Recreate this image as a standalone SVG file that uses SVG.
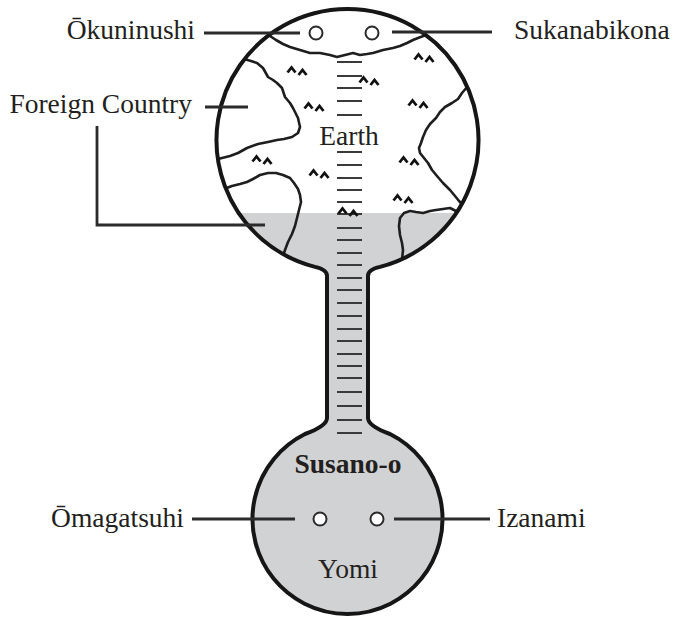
<svg xmlns="http://www.w3.org/2000/svg" width="674" height="619" viewBox="0 0 674 619">
  <style>
    .lbl { font-family: "Liberation Serif", "Times New Roman", serif; font-size: 27.5px; fill: #231f20; }
    .bold { font-weight: bold; }
    .lead { stroke: #2b2b2b; stroke-width: 2.8; fill: none; }
    .coast { stroke: #1e1e1e; stroke-width: 2.6; fill: none; stroke-linejoin: round; stroke-linecap: round; }
    .rung { stroke: #3a3a3a; stroke-width: 2.2; }
    .hill { stroke: #111; stroke-width: 2.8; fill: none; stroke-linejoin: miter; }
    .dot { fill: #fff; stroke: #2b2b2b; stroke-width: 2; }
  </style>
  <defs>
    <!-- outline of the flask: upper world, shaft, lower world -->
    <path id="outline" d="M327,276 Q327,269.5 315,266.9 A131,131 0 1 1 380,266.9 Q368,269.5 368,276 L368,418 Q368,426 390,434 A95,95 0 1 1 305,434 Q327,426 327,418 Z"/>
    <clipPath id="inside"><use href="#outline"/></clipPath>
    <clipPath id="upper"><circle cx="347.5" cy="140" r="130"/></clipPath>
    <g id="hills">
      <path class="hill" d="M-9.5,1.5 L-5.5,-3.5 L-1.5,1.5 M1.5,4 L5.5,-1 L9.5,4"/>
    </g>
  </defs>

  <!-- body and shaded underworld -->
  <g id="flask">
    <use href="#outline" fill="#fff"/>
    <rect x="200" y="213" width="300" height="410" fill="#d1d2d4" clip-path="url(#inside)"/>
  </g>

  <!-- land masses on the upper world -->
  <g id="earth" clip-path="url(#upper)">
    <path class="coast" d="M270,36 L276,40 L283,44 L290,47 L300,50 L310,53 L320,53 L330,55 L337,57 L345,55 L353,53 L360,55 L367,54 L373,53 L383,50 L393,48 L400,46 L407,43 L413,40 L418,38 L426,35"/>
    <path class="coast" d="M244,59 L251,61 L257,63 L263,68 L268,77 L273,80 L277,83 L282,88 L285,97 L290,103 L293,108 L295,112 L298,118 L300,127 L298,133 L292,137 L284,139 L277,140 L268,142 L258,144 L247,148 L238,153 L230,156 L218,159"/>
    <path class="coast" d="M224,189 L232,186 L240,184 L247,182 L253,179 L260,175 L268,173 L276,173 L283,175 L290,178 L294,183 L298,189 L300,195 L301,202 L299,210 L297,218 L295,226 L292,234 L288,242 L285,250 L283,256"/>
    <path class="coast" d="M468,86 L462,93 L458,99 L452,103 L445,107 L440,112 L436,118 L430,124 L426,130 L423,137 L421,143 L419,148 L420,153 L424,158 L428,163 L432,170 L437,176 L443,183 L450,190 L455,196 L459,201 L463,205"/>
    <path class="coast" d="M458,212 L450,208 L443,209 L436,210 L430,211 L423,213 L416,212 L410,211 L404,213 L400,218 L399,226 L400,235 L402,243 L403,250 L402,260"/>
  </g>

  <!-- ladder rungs down the shaft -->
  <g id="ladder">
    <path class="rung" d="M337,62H362M337,76H362M337,88H362M337,101H362M337,115H362M337,152H362M337,165H362M337,178H362M337,190H362M337,202H362M337,214H362M337,228H362M337,240H362M337,253H362M337,265H362M337,278H362M337,290H362M337,303H362M337,316H362M337,329H362M337,341H362M337,354H362M337,366H362M337,378H362M337,392H362M337,406H362M337,420H362M337,433H362"/>
  </g>

  <!-- mountain marks -->
  <g id="mountains">
    <use href="#hills" x="297" y="71"/>
    <use href="#hills" x="369" y="81"/>
    <use href="#hills" x="424" y="58"/>
    <use href="#hills" x="314" y="107"/>
    <use href="#hills" x="418" y="104"/>
    <use href="#hills" x="262" y="160"/>
    <use href="#hills" x="319" y="174"/>
    <use href="#hills" x="409" y="161"/>
    <use href="#hills" x="403" y="199"/>
    <use href="#hills" x="348" y="212"/>
  </g>

  <!-- outline stroke on top -->
  <use href="#outline" fill="none" stroke="#161616" stroke-width="4"/>

  <!-- leader lines -->
  <g id="connectors">
    <path class="lead" d="M204,33H300"/>
    <path class="lead" d="M392,32H492"/>
    <path class="lead" d="M205,107H248"/>
    <path class="lead" d="M97,126V225H265"/>
    <path class="lead" d="M192,519H295"/>
    <path class="lead" d="M394,519H490"/>
  </g>

  <g id="okuninushi">
    <circle class="dot" cx="316" cy="33" r="6.5"/>
    <text class="lbl" x="195" y="39" text-anchor="end">Ōkuninushi</text>
  </g>
  <g id="sukanabikona">
    <circle class="dot" cx="372" cy="33" r="6.5"/>
    <text class="lbl" x="514" y="39">Sukanabikona</text>
  </g>
  <g id="foreign-country">
    <text class="lbl" x="192" y="113" text-anchor="end">Foreign Country</text>
  </g>
  <g id="earth-label">
    <text class="lbl" x="349" y="145" text-anchor="middle">Earth</text>
  </g>
  <g id="susano-o">
    <text class="lbl bold" x="348" y="473" text-anchor="middle">Susano-o</text>
  </g>
  <g id="omagatsuhi">
    <circle class="dot" cx="320" cy="519" r="6.5"/>
    <text class="lbl" x="184" y="527" text-anchor="end">Ōmagatsuhi</text>
  </g>
  <g id="izanami">
    <circle class="dot" cx="377" cy="519" r="6.5"/>
    <text class="lbl" x="497" y="527">Izanami</text>
  </g>
  <g id="yomi">
    <text class="lbl" x="348" y="578" text-anchor="middle">Yomi</text>
  </g>
</svg>
